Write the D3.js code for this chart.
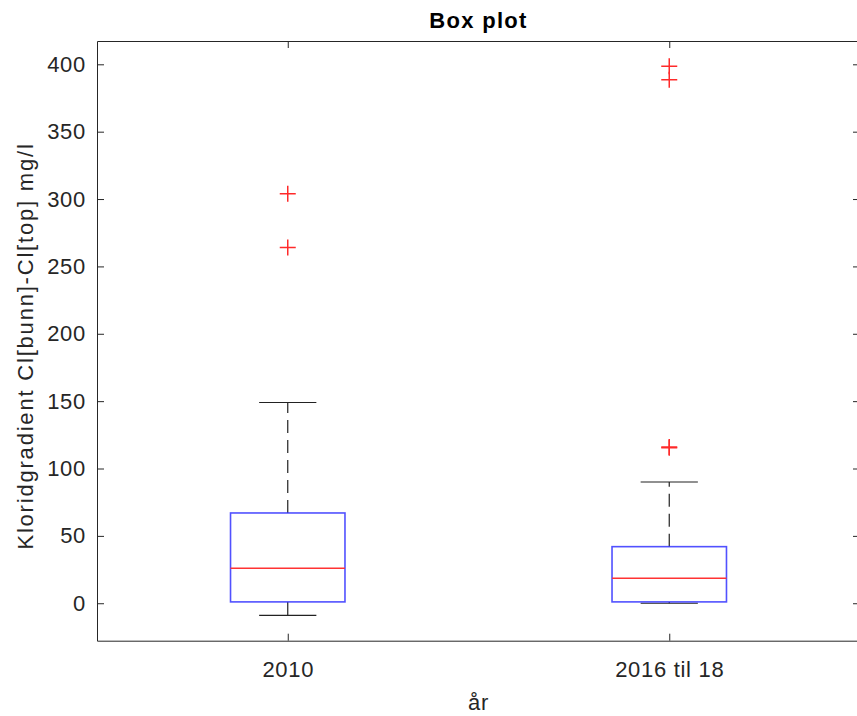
<!DOCTYPE html>
<html>
<head>
<meta charset="utf-8">
<script src="https://cdn.jsdelivr.net/npm/d3@7"></script>
<style>
  body { margin: 0; background: #fff; }
  text { font-family: "Liberation Sans", Arial, Helvetica, sans-serif; fill: #262626; }
</style>
</head>
<body>
<svg id="drawing_region"></svg>
<script>
// data
const categories = ["2010", "2016 til 18"];
const q1 = [1, 1];
const medians = [26, 18.5];
const q3 = [67, 42];
const whiskerLow = [-9, 0];
const whiskerHigh = [149, 90];
const outliers = [[304, 264], [398.5, 388.5, 115.5, 116]];
const yTicks = [0, 50, 100, 150, 200, 250, 300, 350, 400];

const width = 857, height = 716;
const margin = {top: 41, right: -3, bottom: 75.3, left: 97};
const inner_width = width - margin.left - margin.right;
const inner_height = height - margin.top - margin.bottom;

const svg = d3.select('#drawing_region')
    .attr('width', width)
    .attr('height', height);

const chart = svg.append('g')
    .attr('transform', `translate(${margin.left}, ${margin.top})`);

const xscale = d3.scaleLinear()
    .domain([0.5, 2.5])
    .range([0, inner_width]);

const yscale = d3.scaleLinear()
    .domain([-27.8, 417.3])
    .range([inner_height, 0]);

const tick = 7;
const axisColor = '#262626';

// axes
const xaxis = d3.axisBottom(xscale)
    .tickValues([1, 2])
    .tickFormat(d => categories[d - 1])
    .tickSizeInner(-tick)
    .tickSizeOuter(0)
    .tickPadding(21);

const yaxis = d3.axisLeft(yscale)
    .tickValues(yTicks)
    .tickSizeInner(-tick)
    .tickSizeOuter(0)
    .tickPadding(11);

const topaxis = d3.axisTop(xscale).tickValues([1, 2]).tickFormat('').tickSizeInner(-tick).tickSizeOuter(0);
const rightaxis = d3.axisRight(yscale).tickValues(yTicks).tickFormat('').tickSizeInner(-tick).tickSizeOuter(0);

function styleAxis(g) {
    g.select('.domain').attr('stroke', axisColor).attr('stroke-width', 1);
    g.selectAll('.tick line').attr('stroke', axisColor).attr('stroke-width', 1);
    g.selectAll('.tick text').attr('font-size', 22).attr('fill', axisColor)
        .attr('letter-spacing', 0.7)
        .style('font-family', '"Liberation Sans", Arial, sans-serif');
}

chart.append('g')
    .attr('transform', `translate(0, ${inner_height})`)
    .call(xaxis).call(styleAxis);
chart.append('g').call(yaxis).call(styleAxis);
chart.append('g').call(topaxis).call(styleAxis);
chart.append('g')
    .attr('transform', `translate(${inner_width}, 0)`)
    .call(rightaxis).call(styleAxis);

// boxes
const boxHalf = 0.15, capHalf = 0.075;
const groups = chart.selectAll('.box')
    .data(categories.map((c, i) => ({
        x: i + 1, q1: q1[i], med: medians[i], q3: q3[i],
        lo: whiskerLow[i], hi: whiskerHigh[i], out: outliers[i]
    })))
    .enter()
    .append('g')
    .attr('class', 'box');

// dashed whiskers
groups.append('line')
    .attr('x1', d => xscale(d.x)).attr('x2', d => xscale(d.x))
    .attr('y1', d => yscale(d.q3)).attr('y2', d => yscale(d.hi))
    .attr('stroke', '#222').attr('stroke-width', 1.2)
    .attr('stroke-dasharray', '13,7');
groups.append('line')
    .attr('x1', d => xscale(d.x)).attr('x2', d => xscale(d.x))
    .attr('y1', d => yscale(d.q1)).attr('y2', d => yscale(d.lo))
    .attr('stroke', '#222').attr('stroke-width', 1.2)
    .attr('stroke-dasharray', '13,7');

// caps
groups.selectAll('.cap')
    .data(d => [{x: d.x, v: d.hi}, {x: d.x, v: d.lo}])
    .enter()
    .append('line')
    .attr('x1', d => xscale(d.x - capHalf)).attr('x2', d => xscale(d.x + capHalf))
    .attr('y1', d => yscale(d.v)).attr('y2', d => yscale(d.v))
    .attr('stroke', '#222').attr('stroke-width', 1.2);

// box
groups.append('rect')
    .attr('x', d => xscale(d.x - boxHalf))
    .attr('y', d => yscale(d.q3))
    .attr('width', d => xscale(d.x + boxHalf) - xscale(d.x - boxHalf))
    .attr('height', d => yscale(d.q1) - yscale(d.q3))
    .attr('fill', 'none')
    .attr('stroke', '#3333ff').attr('stroke-width', 1.6)
    .attr('stroke-opacity', 0.85);

// median
groups.append('line')
    .attr('x1', d => xscale(d.x - boxHalf)).attr('x2', d => xscale(d.x + boxHalf))
    .attr('y1', d => yscale(d.med)).attr('y2', d => yscale(d.med))
    .attr('stroke', '#ff3333').attr('stroke-width', 1.4);

// outliers
const plus = 8;
groups.selectAll('.out')
    .data(d => d.out.map(v => ({x: d.x, v: v})))
    .enter()
    .append('path')
    .attr('d', d => {
        const cx = xscale(d.x), cy = yscale(d.v);
        return `M${cx - plus},${cy}H${cx + plus}M${cx},${cy - plus}V${cy + plus}`;
    })
    .attr('stroke', '#ff2a2a').attr('stroke-width', 1.5).attr('fill', 'none');

// labels
svg.append('text')
    .attr('x', margin.left + inner_width / 2)
    .attr('y', 28)
    .attr('text-anchor', 'middle')
    .attr('font-size', 22)
    .attr('font-weight', 'bold')
    .attr('letter-spacing', 1.3)
    .style('fill', '#000')
    .text('Box plot');

svg.append('text')
    .attr('x', margin.left + inner_width / 2)
    .attr('y', 710)
    .attr('text-anchor', 'middle')
    .attr('font-size', 22)
    .attr('letter-spacing', 0.7)
    .text('år');

svg.append('text')
    .attr('transform', `translate(33, 346) rotate(-90)`)
    .attr('text-anchor', 'middle')
    .attr('font-size', 22)
    .attr('letter-spacing', 1.8)
    .text('Kloridgradient Cl[bunn]-Cl[top] mg/l');
</script>
</body>
</html>
